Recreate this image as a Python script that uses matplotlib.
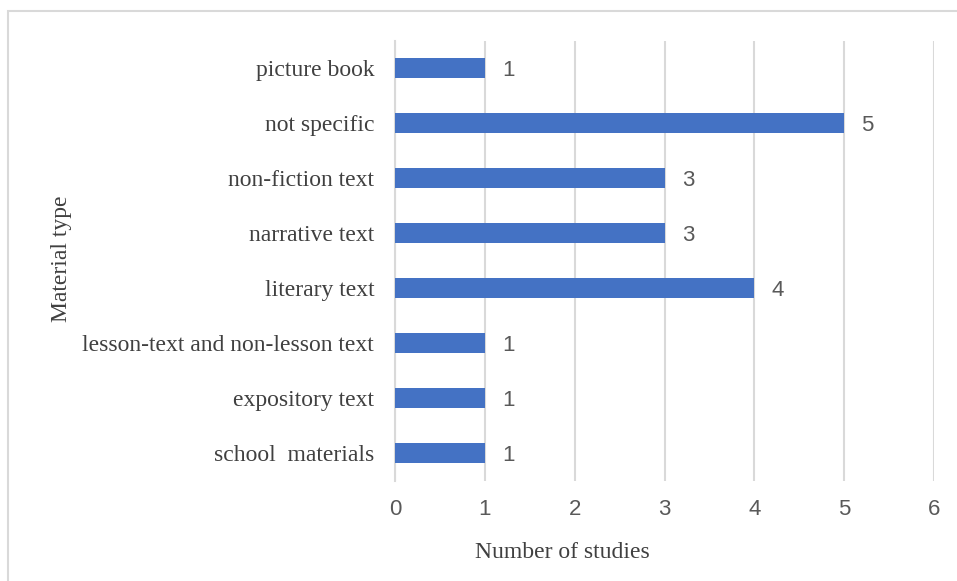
import matplotlib
matplotlib.use("Agg")
import matplotlib.pyplot as plt
from matplotlib.patches import Rectangle

categories = ["school  materials", "expository text", "lesson-text and non-lesson text",
              "literary text", "narrative text", "non-fiction text", "not specific", "picture book"]
values = [1, 1, 1, 4, 3, 3, 5, 1]
xticks = [0, 1, 2, 3, 4, 5, 6]

W, H = 957, 581
fig = plt.figure(figsize=(W/100, H/100), dpi=100)
ax = fig.add_axes([395/W, 1-480.5/H, (934-395)/W, (480.5-40.5)/H])

ypos = list(range(len(categories)))
ax.barh(ypos, values, height=0.36, color="#4472C4", zorder=3)
ax.set_xlim(0, 6)
ax.set_ylim(-0.5, len(categories)-0.5)
ax.set_xticks(xticks)
ax.set_xticklabels([str(t) for t in xticks])
ax.set_yticks(ypos)
ax.set_yticklabels(categories, family="Liberation Serif", fontsize=17, color="#404040")
ax.tick_params(axis="both", length=0)
ax.tick_params(axis="x", pad=13.5, labelsize=16, labelcolor="#595959")
ax.tick_params(axis="y", pad=15)
for lab in ax.get_xticklabels():
    lab.set_family("Liberation Sans")
ax.grid(axis="x", color="#D9D9D9", linewidth=1.5, zorder=0)
for s in ["top", "right", "bottom"]:
    ax.spines[s].set_visible(False)
ax.spines["left"].set_color("#D9D9D9")
ax.spines["left"].set_linewidth(1.5)

for y, v in zip(ypos, values):
    ax.annotate(str(v), xy=(v, y), xytext=(12.5, 0), textcoords="offset points",
                va="center_baseline", ha="left", fontsize=16, color="#595959",
                family="Liberation Sans")

ax.set_xlabel("Number of studies", family="Liberation Serif", fontsize=17, color="#404040")
ax.set_ylabel("Material type", family="Liberation Serif", fontsize=17, color="#404040")
ax.xaxis.label.set_va("center")
ax.yaxis.label.set_va("center")
ax.xaxis.set_label_coords(562/W, 1-552/H, transform=fig.transFigure)
ax.yaxis.set_label_coords(61/W, 1-259/H, transform=fig.transFigure)

fig.patches.append(Rectangle((8/W, -0.1), 2, 1.1 - 11/H, transform=fig.transFigure,
                             fill=False, edgecolor="#D9D9D9", linewidth=1.5))

fig.savefig("out.png", dpi=100)
